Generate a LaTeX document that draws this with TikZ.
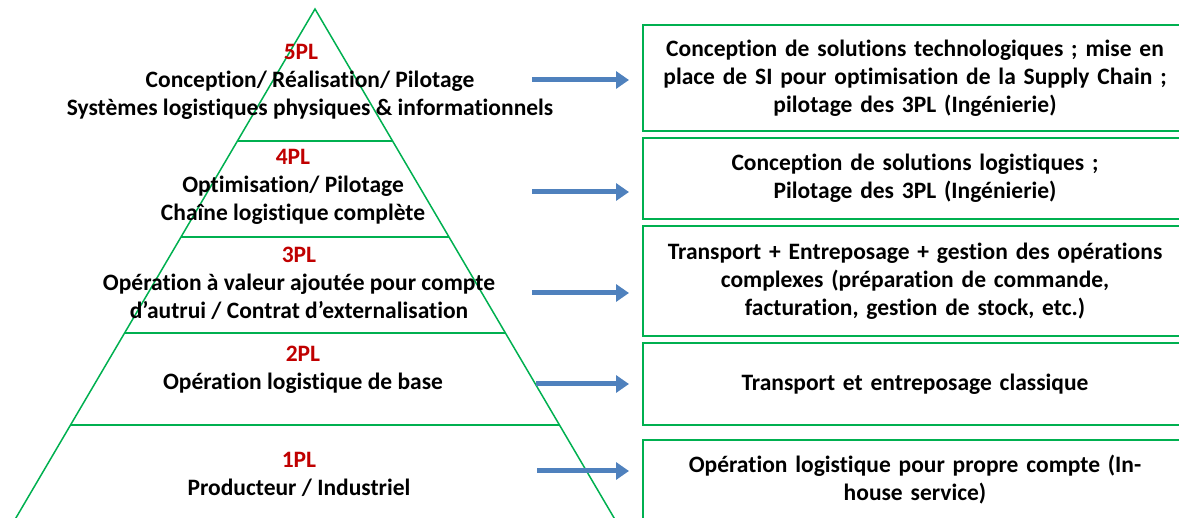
\documentclass[tikz,border=0pt]{standalone}
\usepackage{fontspec}
\setmainfont{Carlito}[Ligatures=NoCommon]
\usetikzlibrary{arrows.meta}
\definecolor{vert}{HTML}{00B050}
\definecolor{bleu}{HTML}{4F81BD}
\definecolor{rouge}{HTML}{C00000}
\tikzstyle{fleche} = [draw=bleu, line width=5pt, -{Triangle[length=13pt, width=17pt]}, shorten >=13pt]
\tikzstyle{trait} = [draw=vert, line width=1.5pt]
\tikzstyle{palier} = [draw=vert, line width=2.2pt]
\tikzstyle{boite} = [rectangle, draw=vert, line width=2pt, minimum width=544pt, text width=535pt, align=center, inner sep=0pt]
\tikzstyle{niveau} = [rectangle, align=center, inner sep=0pt]
\newcommand{\etage}[1]{\textcolor{rouge}{#1}}

\begin{document}
\begin{tikzpicture}[x=1pt, y=-1pt, font=\fontsize{23.5}{28}\selectfont\bfseries]
\useasboundingbox (0,0) rectangle (1179,518);
\clip (0,0) rectangle (1179,518);

% pyramide
\coordinate (sommet) at (315,9);
\draw[trait] (10,528) -- (sommet) -- (620,528);
\draw[palier] (237.5,141) -- (392.5,141);
\draw[palier] (181,237) -- (449,237);
\draw[palier] (125,333) -- (505,333);
\draw[palier] (71,425) -- (559,425);

\node (niveauCinq) [niveau] at (310,82) {\etage{5PL}\hspace*{18pt}\\ Conception/ Réalisation/ Pilotage\\ Systèmes logistiques physiques \& informationnels};
\node (niveauQuatre) [niveau] at (293,187) {\etage{4PL}\\ Optimisation/ Pilotage\\ Chaîne logistique complète};
\node (niveauTrois) [niveau] at (299,283) {\etage{3PL}\\ Opération à valeur ajoutée pour compte\\ d’autrui / Contrat d’externalisation};
\node (niveauDeux) [niveau] at (303,370) {\etage{2PL}\\ Opération logistique de base};
\node (niveauUn) [niveau] at (299,474) {\etage{1PL}\\ Producteur / Industriel};

% boites de droite
\node (boiteCinq) [boite, minimum height=106pt] at (915,78) {Conception de solutions technologiques ; mise en\\ place de SI pour optimisation de la Supply Chain ;\\ pilotage des 3PL (Ingénierie)};
\node (boiteQuatre) [boite, minimum height=81pt] at (915,178.5) {Conception de solutions logistiques ;\\ Pilotage des 3PL (Ingénierie)};
\node (boiteTrois) [boite, minimum height=110pt] at (915,281) {Transport + Entreposage + gestion des opérations\\ complexes (préparation de commande,\\ facturation, gestion de stock, etc.)};
\node (boiteDeux) [boite, minimum height=82pt] at (915,384) {Transport et entreposage classique};
\node (boiteUn) [boite, minimum height=80pt] at (915,480) {Opération logistique pour propre compte (In-\\ house service)};

% fleches
\coordinate (departCinq) at (532,80);
\coordinate (departQuatre) at (532,192);
\coordinate (departTrois) at (532,293);
\coordinate (departDeux) at (536,384);
\coordinate (departUn) at (537,471);
\draw[fleche] (departCinq) -- (departCinq -| boiteCinq.west);
\draw[fleche] (departQuatre) -- (departQuatre -| boiteQuatre.west);
\draw[fleche] (departTrois) -- (departTrois -| boiteTrois.west);
\draw[fleche] (departDeux) -- (departDeux -| boiteDeux.west);
\draw[fleche] (departUn) -- (departUn -| boiteUn.west);
\end{tikzpicture}
\end{document}
